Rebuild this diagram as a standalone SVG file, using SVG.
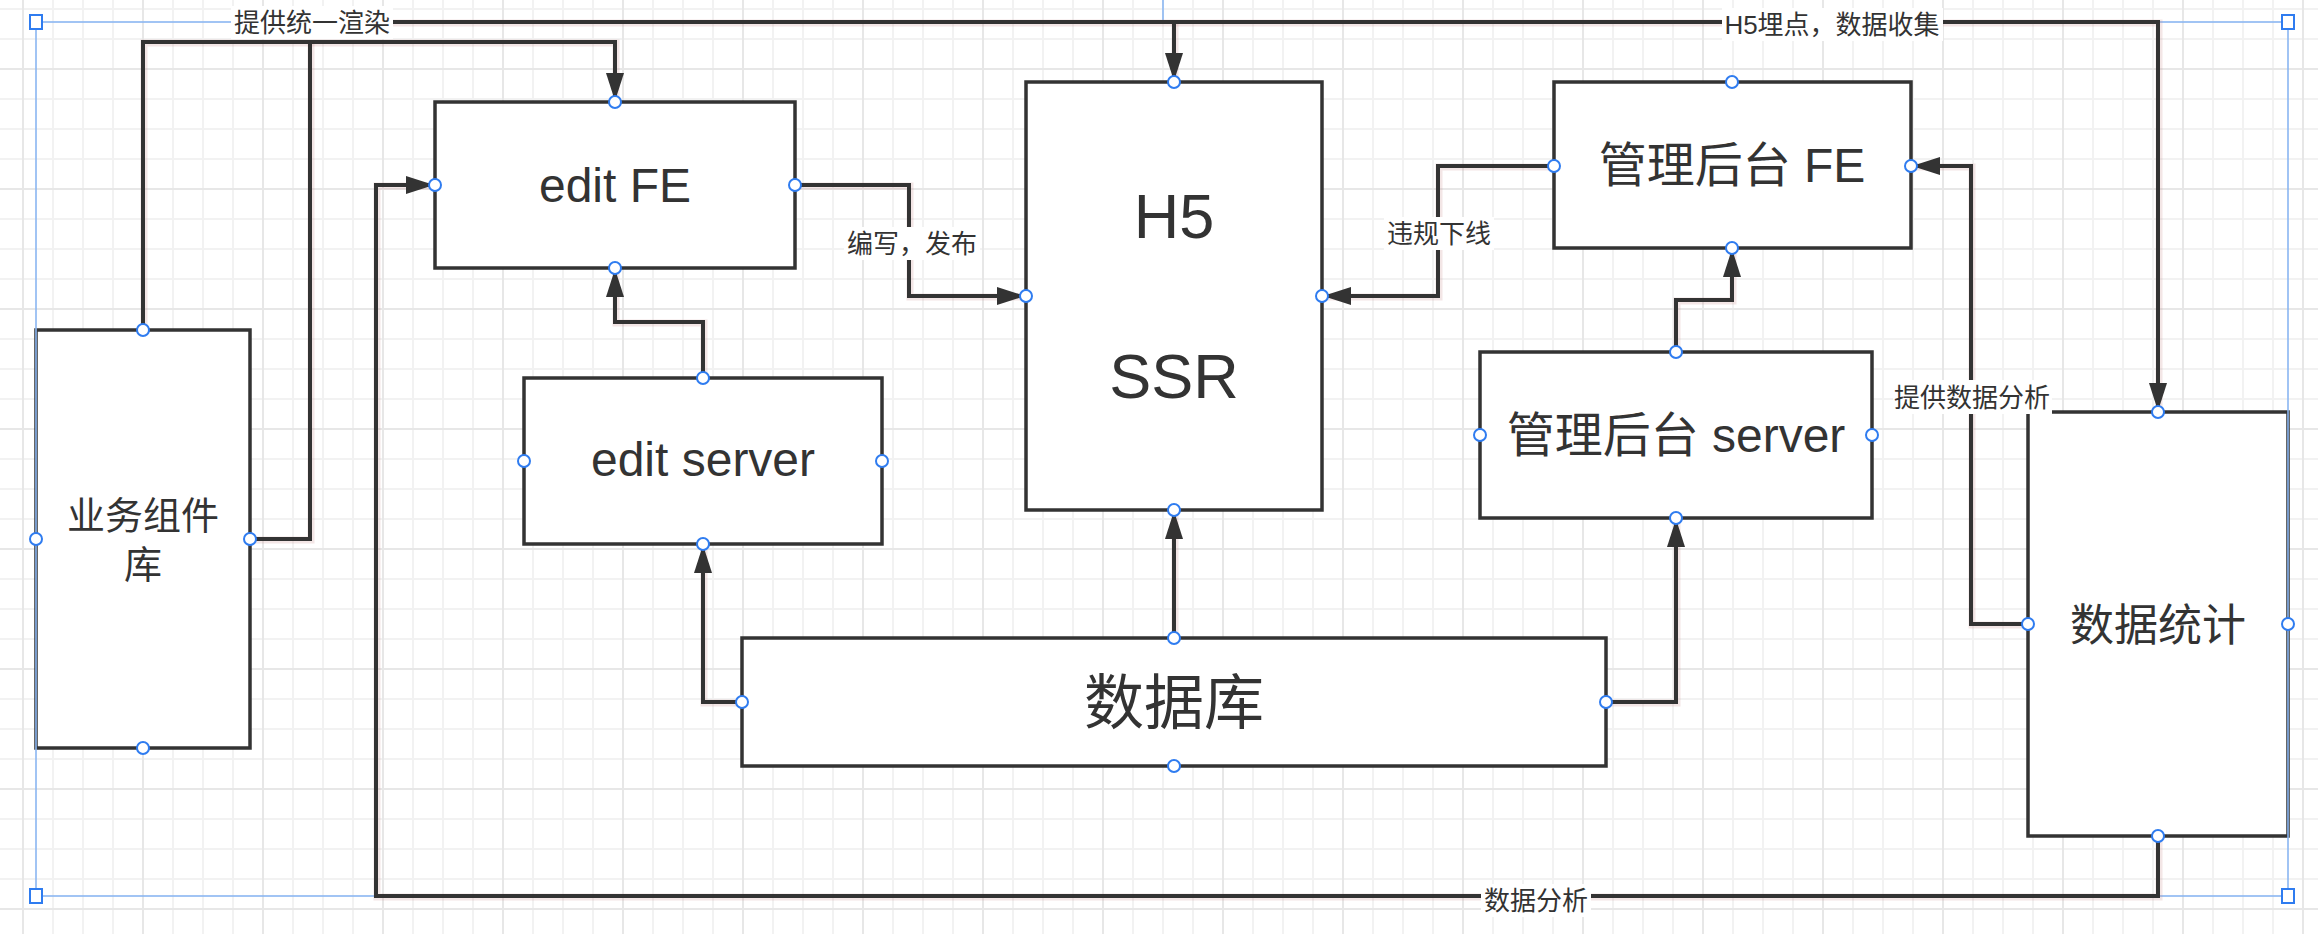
<svg xmlns="http://www.w3.org/2000/svg" width="2318" height="934" viewBox="0 0 2318 934">
<defs>
<pattern id="gMinor" patternUnits="userSpaceOnUse" x="22" y="8" width="30" height="30">
<rect x="0" y="0" width="2" height="30" fill="#f2f2f2"/>
<rect x="0" y="0" width="30" height="2" fill="#f2f2f2"/>
</pattern>
<pattern id="gMajor" patternUnits="userSpaceOnUse" x="22" y="68" width="120" height="120">
<rect x="0" y="0" width="2" height="120" fill="#e7e7e7"/>
<rect x="0" y="0" width="120" height="2" fill="#e7e7e7"/>
</pattern>
<marker id="arr" viewBox="0 0 28 18" refX="27" refY="9" markerWidth="28" markerHeight="18" markerUnits="userSpaceOnUse" orient="auto">
<path d="M0,0 L28,9 L0,18 Z" fill="#333333"/>
</marker>
<style>
.box{fill:#ffffff;stroke:#333333;stroke-width:3.5}
.lbl{font-family:"Liberation Sans","Noto Sans CJK SC",sans-serif;fill:#333333;text-anchor:middle}
.edge{fill:none;stroke:#333333;stroke-width:4;stroke-linejoin:miter}
.halo{fill:none;stroke:#c98d8d;stroke-width:7;opacity:0.22}
.bg{fill:#ffffff}
.port{fill:#ffffff;stroke:#2f7cf0;stroke-width:2}
.sel{fill:none;stroke:#8ab6f2;stroke-width:1.6}
.handle{fill:#ffffff;stroke:#2f7cf0;stroke-width:2}
</style>
</defs>
<rect width="2318" height="934" fill="#ffffff"/>
<rect width="2318" height="934" fill="url(#gMinor)"/>
<rect width="2318" height="934" fill="url(#gMajor)"/>

<g id="node-biz">
<rect class="box" x="36" y="330" width="214" height="418"/>
<text class="lbl" font-size="38" x="143" y="529">业务组件</text>
<text class="lbl" font-size="38" x="143" y="578">库</text>
</g>
<g id="node-editfe">
<rect class="box" x="435" y="102" width="360" height="166"/>
<text class="lbl" font-size="48" x="615" y="202">edit FE</text>
</g>
<g id="node-editserver">
<rect class="box" x="524" y="378" width="358" height="166"/>
<text class="lbl" font-size="48" x="703" y="476">edit server</text>
</g>
<g id="node-h5">
<rect class="box" x="1026" y="82" width="296" height="428"/>
<text class="lbl" font-size="63" x="1174" y="238">H5</text>
<text class="lbl" font-size="63" x="1174" y="398">SSR</text>
</g>
<g id="node-db">
<rect class="box" x="742" y="638" width="864" height="128"/>
<text class="lbl" font-size="60" x="1174" y="724">数据库</text>
</g>
<g id="node-adminfe">
<rect class="box" x="1554" y="82" width="357" height="166"/>
<text class="lbl" font-size="48" x="1732" y="182">管理后台 FE</text>
</g>
<g id="node-adminserver">
<rect class="box" x="1480" y="352" width="392" height="166"/>
<text class="lbl" font-size="48" x="1676" y="452">管理后台 server</text>
</g>
<g id="node-stats">
<rect class="box" x="2028" y="412" width="260" height="424"/>
<text class="lbl" font-size="44" x="2158" y="641">数据统计</text>
</g>

<g id="selection">
<rect class="sel" x="36" y="22" width="2252" height="874"/>
<line class="sel" x1="1163" y1="0" x2="1163" y2="22"/>
</g>

<g id="connectors">
<g transform="translate(1,1)">
<path class="halo" d="M143,330 V42 H615 V100"/>
<path class="halo" d="M250,539 H310 V42"/>
<path class="halo" d="M312,22 H2158 V410"/>
<path class="halo" d="M1174,22 V80"/>
<path class="halo" d="M795,185 H909 V296 H1024"/>
<path class="halo" d="M1554,166 H1438 V296 H1324"/>
<path class="halo" d="M703,378 V322 H615 V270"/>
<path class="halo" d="M742,702 H703 V546"/>
<path class="halo" d="M1174,638 V512"/>
<path class="halo" d="M1606,702 H1676 V520"/>
<path class="halo" d="M1676,352 V300 H1732 V250"/>
<path class="halo" d="M2028,624 H1971 V166 H1913"/>
<path class="halo" d="M2158,836 V896 H376 V185 H433"/>
</g>
<path class="edge" d="M143,330 V42 H615 V100" marker-end="url(#arr)"/>
<path class="edge" d="M250,539 H310 V42"/>
<path class="edge" d="M312,22 H2158 V410" marker-end="url(#arr)"/>
<path class="edge" d="M1174,22 V80" marker-end="url(#arr)"/>
<path class="edge" d="M795,185 H909 V296 H1024" marker-end="url(#arr)"/>
<path class="edge" d="M1554,166 H1438 V296 H1324" marker-end="url(#arr)"/>
<path class="edge" d="M703,378 V322 H615 V270" marker-end="url(#arr)"/>
<path class="edge" d="M742,702 H703 V546" marker-end="url(#arr)"/>
<path class="edge" d="M1174,638 V512" marker-end="url(#arr)"/>
<path class="edge" d="M1606,702 H1676 V520" marker-end="url(#arr)"/>
<path class="edge" d="M1676,352 V300 H1732 V250" marker-end="url(#arr)"/>
<path class="edge" d="M2028,624 H1971 V166 H1913" marker-end="url(#arr)"/>
<path class="edge" d="M2158,836 V896 H376 V185 H433" marker-end="url(#arr)"/>

<rect class="bg" x="231" y="6" width="162" height="33"/>
<text class="lbl" font-size="26" x="312" y="32">提供统一渲染</text>
<rect class="bg" x="1722" y="8" width="221" height="33"/>
<text class="lbl" font-size="26" x="1832" y="34">H5埋点，数据收集</text>
<rect class="bg" x="844" y="227" width="136" height="33"/>
<text class="lbl" font-size="26" x="912" y="253">编写，发布</text>
<rect class="bg" x="1384" y="217" width="110" height="33"/>
<text class="lbl" font-size="26" x="1439" y="243">违规下线</text>
<rect class="bg" x="1893" y="380" width="159" height="34"/>
<text class="lbl" font-size="26" x="1972" y="407">提供数据分析</text>
<rect class="bg" x="1481" y="884" width="110" height="33"/>
<text class="lbl" font-size="26" x="1536" y="910">数据分析</text>
</g>

<g id="ports">
<circle class="port" cx="615" cy="102" r="6"/><circle class="port" cx="615" cy="268" r="6"/><circle class="port" cx="435" cy="185" r="6"/><circle class="port" cx="795" cy="185" r="6"/>
<circle class="port" cx="1174" cy="82" r="6"/><circle class="port" cx="1174" cy="510" r="6"/><circle class="port" cx="1026" cy="296" r="6"/><circle class="port" cx="1322" cy="296" r="6"/>
<circle class="port" cx="1732" cy="82" r="6"/><circle class="port" cx="1732" cy="248" r="6"/><circle class="port" cx="1554" cy="166" r="6"/><circle class="port" cx="1911" cy="166" r="6"/>
<circle class="port" cx="1676" cy="352" r="6"/><circle class="port" cx="1676" cy="518" r="6"/><circle class="port" cx="1480" cy="435" r="6"/><circle class="port" cx="1872" cy="435" r="6"/>
<circle class="port" cx="703" cy="378" r="6"/><circle class="port" cx="703" cy="544" r="6"/><circle class="port" cx="524" cy="461" r="6"/><circle class="port" cx="882" cy="461" r="6"/>
<circle class="port" cx="1174" cy="638" r="6"/><circle class="port" cx="1174" cy="766" r="6"/><circle class="port" cx="742" cy="702" r="6"/><circle class="port" cx="1606" cy="702" r="6"/>
<circle class="port" cx="143" cy="330" r="6"/><circle class="port" cx="143" cy="748" r="6"/><circle class="port" cx="36" cy="539" r="6"/><circle class="port" cx="250" cy="539" r="6"/>
<circle class="port" cx="2158" cy="412" r="6"/><circle class="port" cx="2158" cy="836" r="6"/><circle class="port" cx="2028" cy="624" r="6"/><circle class="port" cx="2288" cy="624" r="6"/>
</g>

<g id="handles">
<rect class="handle" x="30" y="15" width="12" height="14"/>
<rect class="handle" x="2282" y="15" width="12" height="14"/>
<rect class="handle" x="30" y="889" width="12" height="14"/>
<rect class="handle" x="2282" y="889" width="12" height="14"/>
</g>
</svg>
